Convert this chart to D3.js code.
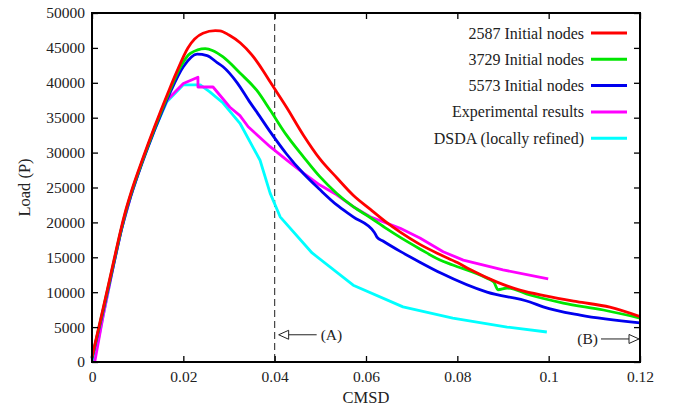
<!DOCTYPE html>
<html>
<head>
<meta charset="utf-8">
<script src="https://cdn.jsdelivr.net/npm/d3@7"></script>
<style>
  html, body { margin: 0; padding: 0; background: #fff; }
  svg { display: block; }
</style>
</head>
<body>
<svg id="chart" width="675" height="409"></svg>
<script>
// ---------- data ----------
const xTicks = [0, 0.02, 0.04, 0.06, 0.08, 0.1, 0.12];
const xTickLabels = ["0", "0.02", "0.04", "0.06", "0.08", "0.1", "0.12"];
const yTicks = [0, 5000, 10000, 15000, 20000, 25000, 30000, 35000, 40000, 45000, 50000];
const yTickLabels = ["0", "5000", "10000", "15000", "20000", "25000", "30000", "35000", "40000", "45000", "50000"];

const seriesNames = ["2587 Initial nodes", "3729 Initial nodes", "5573 Initial nodes", "Experimental results", "DSDA (locally refined)"];
const seriesColors = ["#ff0000", "#00e600", "#0000ee", "#ff00ff", "#00ffff"];

const nodes2587 = [[0,700],[0.0024,7600],[0.0046,14000],[0.0064,19200],[0.0075,22000],[0.0086,24400],[0.0112,29300],[0.0137,33700],[0.0166,38500],[0.0185,41500],[0.021,45000],[0.0243,47100],[0.027,47470],[0.028,47450],[0.03,46850],[0.0325,45700],[0.035,44000],[0.0375,41700],[0.039,40150],[0.0426,36500],[0.0463,32500],[0.0499,29100],[0.0536,26400],[0.0572,23900],[0.0609,21900],[0.0645,20000],[0.0675,18600],[0.0718,16850],[0.0762,15400],[0.08,14250],[0.0828,13250],[0.0887,11450],[0.0937,10300],[0.0996,9450],[0.1062,8650],[0.1134,7850],[0.12,6500]];
const nodes3729 = [[0,600],[0.0024,7400],[0.0046,13800],[0.0064,19000],[0.0075,21800],[0.0086,24200],[0.0112,29100],[0.0137,33500],[0.0166,38200],[0.0193,42200],[0.0215,44200],[0.0248,44900],[0.0265,44600],[0.0287,43700],[0.0324,41400],[0.0361,38900],[0.039,36100],[0.0426,32500],[0.0463,29400],[0.0499,26550],[0.0536,24150],[0.0572,22250],[0.0609,20700],[0.0645,19100],[0.0675,17850],[0.0718,16200],[0.0762,14600],[0.079,13900],[0.0865,12000],[0.088,11450],[0.0889,10350],[0.0909,10600],[0.0959,9600],[0.1032,8450],[0.112,7450],[0.12,6300]];
const nodes5573 = [[0,500],[0.0024,7200],[0.0046,13600],[0.0064,18800],[0.0075,21600],[0.0086,24000],[0.0112,28900],[0.0137,33200],[0.0171,38600],[0.02,42300],[0.023,44100],[0.0252,43900],[0.0274,42900],[0.0287,42300],[0.0318,40000],[0.0346,37200],[0.0361,35800],[0.039,33000],[0.0426,29800],[0.0463,27000],[0.0499,24700],[0.0536,22500],[0.0572,20800],[0.0618,18600],[0.0624,17900],[0.0638,17300],[0.0675,15850],[0.0718,14300],[0.0765,12700],[0.0865,10000],[0.0959,8600],[0.0988,7900],[0.1069,6700],[0.12,5600]];
const experimental = [[0.0006,0],[0.0024,6500],[0.0046,13500],[0.0064,18900],[0.0086,24000],[0.0112,29100],[0.0137,33500],[0.0164,37500],[0.02,39900],[0.0232,40800],[0.0232,39400],[0.0265,39400],[0.0302,36500],[0.0324,35300],[0.0342,33700],[0.039,30850],[0.0426,28950],[0.0463,27050],[0.0499,25350],[0.0536,23950],[0.0572,22250],[0.0609,20800],[0.0675,19150],[0.0718,17760],[0.0769,15800],[0.0813,14600],[0.09,13200],[0.0999,11900]];
const dsda = [[0.0004,0],[0.0024,6500],[0.0046,13500],[0.0064,18900],[0.0086,24000],[0.0112,29100],[0.0137,33300],[0.0164,37300],[0.02,39700],[0.0237,39700],[0.0258,38700],[0.0287,37100],[0.0324,34200],[0.0368,28900],[0.039,24200],[0.0412,20800],[0.0482,15620],[0.0572,11000],[0.0681,7900],[0.079,6300],[0.0909,5000],[0.0996,4300]];
const seriesData = [nodes2587, nodes3729, nodes5573, experimental, dsda];

const dashedX = 0.04;
const annoA = { label: "(A)", x: 0.04, y: 3900 };
const annoB = { label: "(B)", x: 0.12, y: 3300 };

// ---------- layout ----------
const FONT = "'Liberation Serif', 'DejaVu Serif', 'Noto Serif', 'Times New Roman', Times, serif";
const svg = d3.select("#chart");
const L = 92, R = 640, T = 13, B = 362;
const x = d3.scaleLinear().domain([0, 0.12]).range([L, R]);
const y = d3.scaleLinear().domain([0, 50000]).range([B, T]);
const fs = 15.5;

// dashed line
svg.append("line")
  .attr("x1", x(dashedX)).attr("x2", x(dashedX))
  .attr("y1", y(50000)).attr("y2", y(0))
  .attr("stroke", "#333").attr("stroke-width", 1.1)
  .attr("stroke-dasharray", "7,4");

// curves
const smoothLine = d3.line().x(d => x(d[0])).y(d => y(d[1])).curve(d3.curveMonotoneX);
const straightLine = d3.line().x(d => x(d[0])).y(d => y(d[1]));
const order = [4, 3, 2, 1, 0];
order.forEach(i => {
  svg.append("path")
    .datum(seriesData[i])
    .attr("d", i >= 3 ? straightLine : smoothLine)
    .attr("fill", "none")
    .attr("stroke", seriesColors[i])
    .attr("stroke-width", 2.8)
    .attr("stroke-linejoin", "round");
});

// axes
const tickLen = 6;
const axB = svg.append("g").attr("transform", `translate(0,${B})`)
  .call(d3.axisBottom(x).tickValues(xTicks).tickFormat((d, i) => xTickLabels[i]).tickSize(-tickLen).tickPadding(9));
const axT = svg.append("g").attr("transform", `translate(0,${T})`)
  .call(d3.axisTop(x).tickValues(xTicks).tickFormat("").tickSize(-tickLen));
const axL = svg.append("g").attr("transform", `translate(${L},0)`)
  .call(d3.axisLeft(y).tickValues(yTicks).tickFormat((d, i) => yTickLabels[i]).tickSize(-tickLen).tickPadding(7));
const axR = svg.append("g").attr("transform", `translate(${R},0)`)
  .call(d3.axisRight(y).tickValues(yTicks).tickFormat("").tickSize(-tickLen));
[axB, axT, axL, axR].forEach(g => {
  g.attr("font-family", null);
  g.select(".domain").remove();
  g.selectAll(".tick line").attr("stroke", "#000").attr("stroke-width", 1.3);
  g.selectAll(".tick text").style("font-family", FONT).style("font-size", fs + "px").attr("fill", "#222");
});

// frame
svg.append("rect").attr("x", L).attr("y", T).attr("width", R - L).attr("height", B - T)
  .attr("fill", "none").attr("stroke", "#000").attr("stroke-width", 2);

function txt(xx, yy, s, size, anchor) {
  return svg.append("text").attr("x", xx).attr("y", yy).attr("text-anchor", anchor || "start")
    .style("font-family", FONT).style("font-size", size + "px").attr("fill", "#222").text(s);
}

// axis labels
txt(x(0.06), 403, "CMSD", 16.5, "middle");
txt(0, 0, "Load (P)", 16.5, "middle").attr("x", null).attr("y", null)
  .attr("transform", `translate(30,${(T + B) / 2}) rotate(-90)`);

// legend
const legX = 584, legY0 = 33, legDy = 26.3;
seriesNames.forEach((n, i) => {
  const yy = legY0 + i * legDy;
  txt(legX, yy + 5.5, n, 16, "end");
  svg.append("line").attr("x1", 591).attr("x2", 627).attr("y1", yy).attr("y2", yy)
    .attr("stroke", seriesColors[i]).attr("stroke-width", 3);
});

// annotations
function arrow(xTip, yy, xTail, dir) {
  svg.append("line").attr("x1", xTail).attr("x2", xTip + dir * 9).attr("y1", yy).attr("y2", yy)
    .attr("stroke", "#222").attr("stroke-width", 1);
  svg.append("path")
    .attr("d", `M${xTip},${yy} L${xTip + dir * 10},${yy - 4.5} L${xTip + dir * 10},${yy + 4.5} Z`)
    .attr("fill", "#fff").attr("stroke", "#222").attr("stroke-width", 1);
}
const ay = y(annoA.y);
arrow(x(annoA.x) + 4, ay, x(annoA.x) + 42, 1);
txt(x(annoA.x) + 46, ay + 5, annoA.label, fs);
const by = y(annoB.y);
arrow(x(annoB.x) - 1, by, x(annoB.x) - 39, -1);
txt(x(annoB.x) - 42, by + 5, annoB.label, fs, "end");
</script>
</body>
</html>
